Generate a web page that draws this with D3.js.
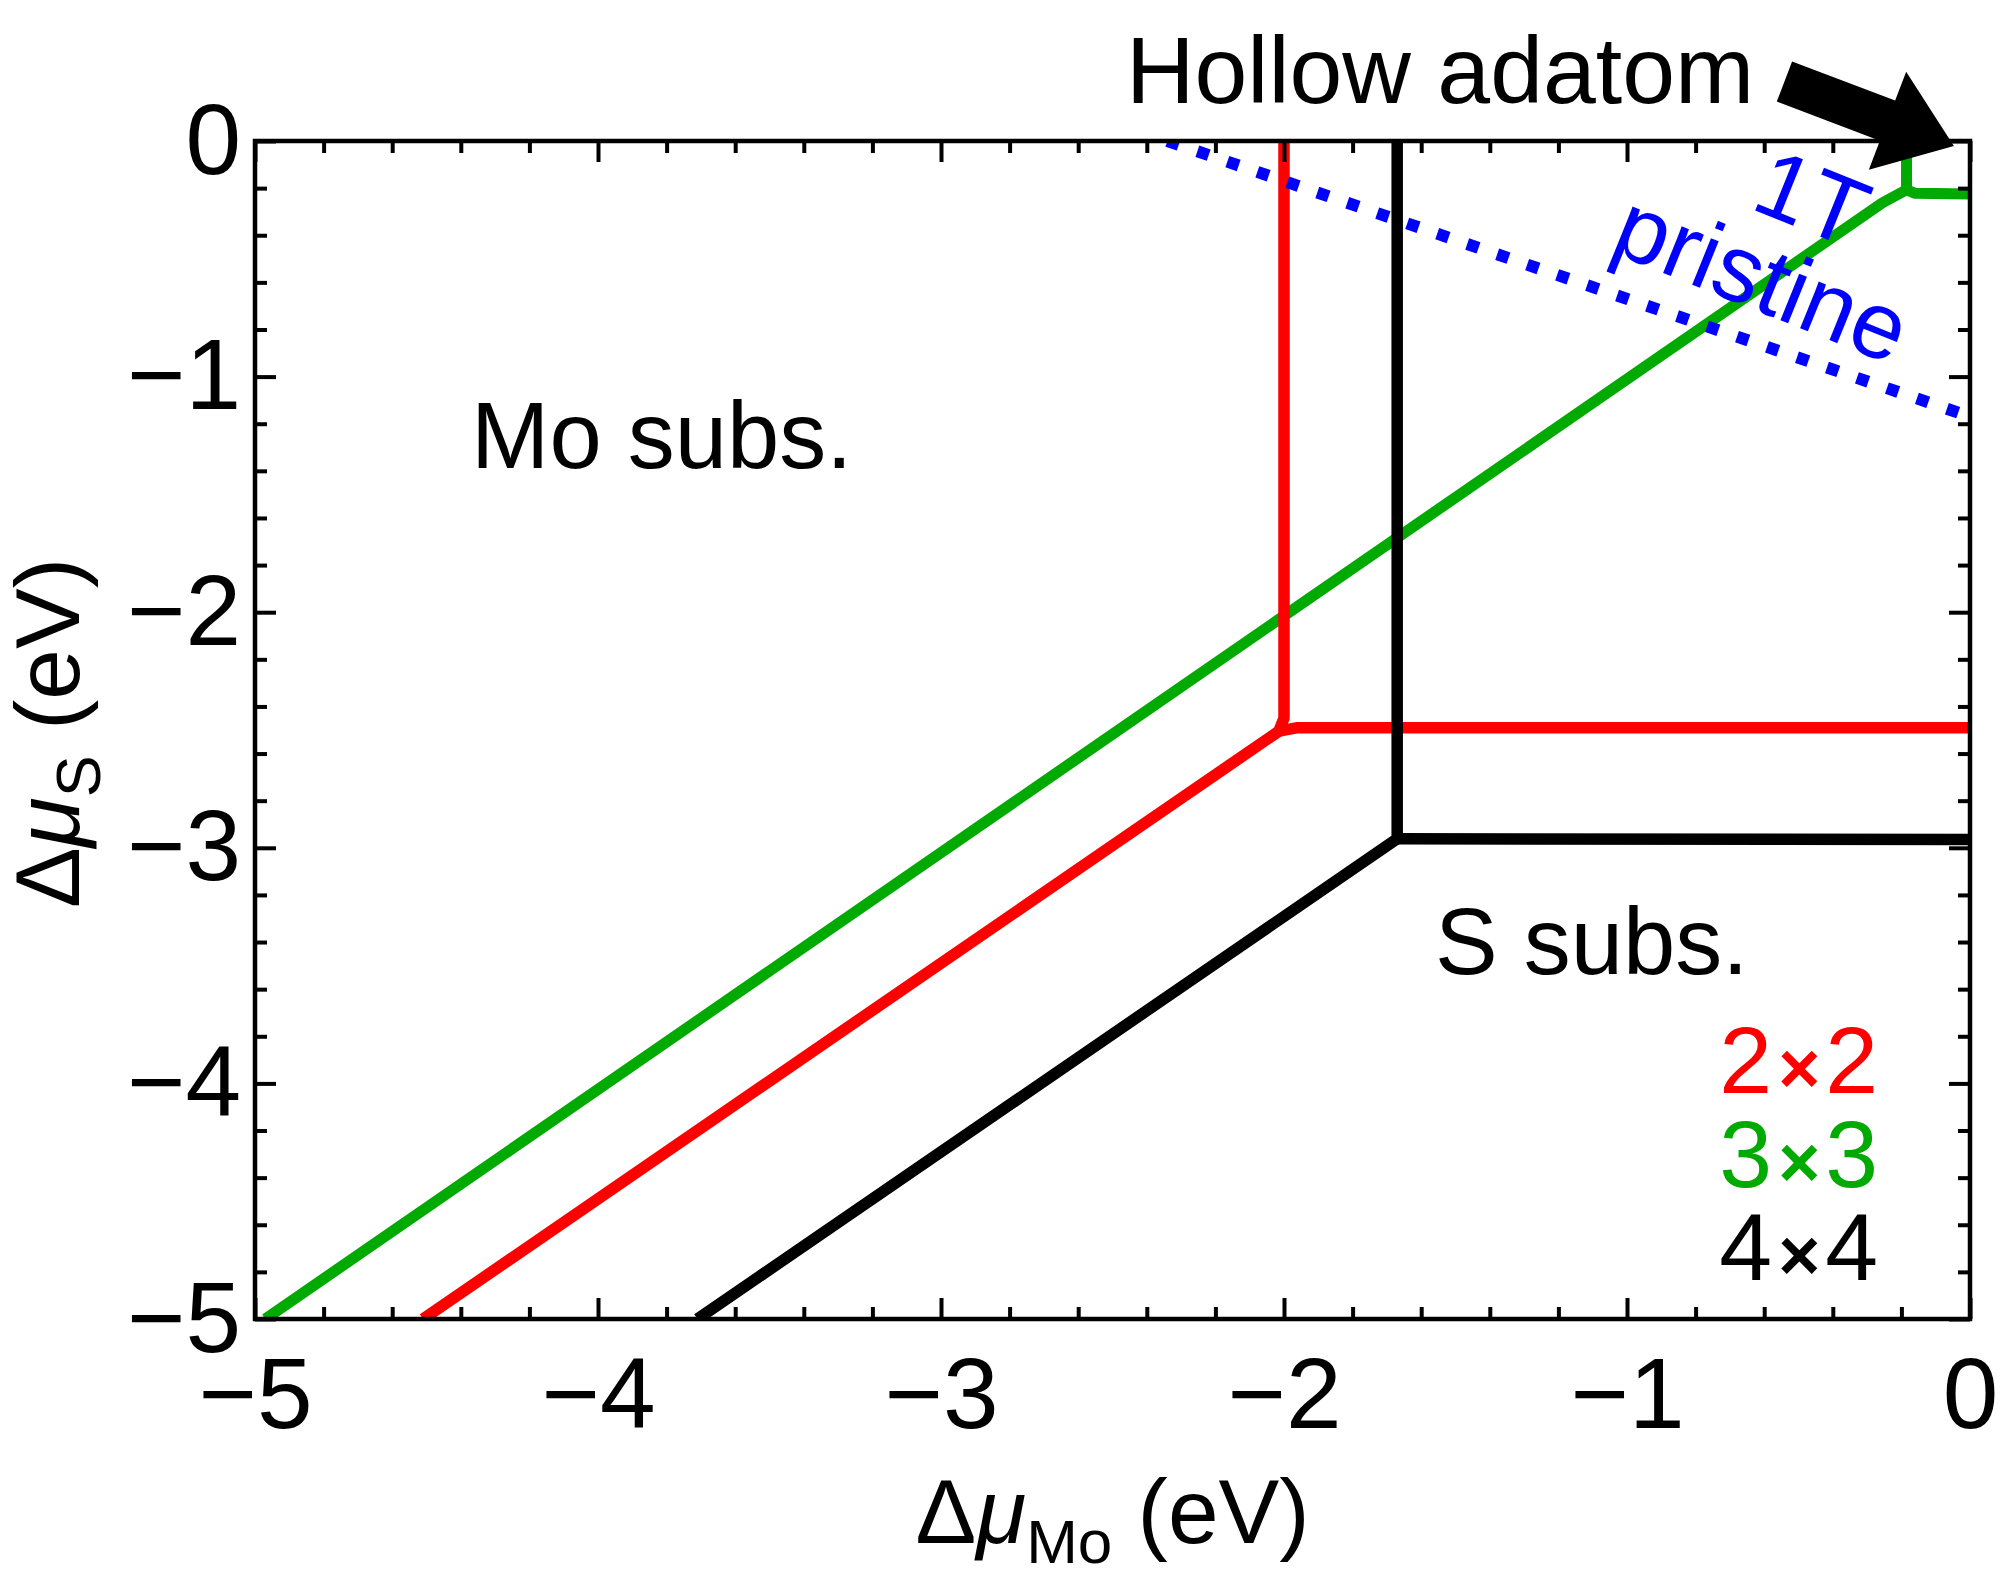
<!DOCTYPE html>
<html>
<head>
<meta charset="utf-8">
<script src="https://cdn.jsdelivr.net/npm/d3@7/dist/d3.min.js"></script>
<style>
  html, body { margin: 0; padding: 0; background: #fff; }
  svg { display: block; }
  text { font-family: "Liberation Sans", Arial, sans-serif; }
</style>
</head>
<body>
<svg id="chart" width="2015" height="1595"></svg>
<script>
// ---------------- data (eV) ----------------
const xMajorTicks = [-5, -4, -3, -2, -1, 0];
const yMajorTicks = [-5, -4, -3, -2, -1, 0];
const minorStep = 0.2;

// 2x2 (red) phase boundaries
const red2x2Diag  = [[-2.0, 0], [-2.0, -2.45], [-2.015, -2.505], [-4.51, -5]];
const red2x2Horiz = [[-2.015, -2.505], [-1.96, -2.49], [0, -2.49]];
// 3x3 (green) phase boundaries
const green3x3Diag  = [[-0.185, 0], [-0.185, -0.207], [-0.255, -0.262], [-4.97, -5]];
const green3x3Horiz = [[-0.185, -0.207], [-0.16, -0.222], [0, -0.225]];
// 4x4 (black) phase boundaries
const black4x4Diag  = [[-1.67, 0], [-1.67, -2.962], [-3.71, -5]];
const black4x4Horiz = [[-1.67, -2.962], [0, -2.965]];
// 1T pristine stability limit (dotted)
const pristine1T = [[-2.34, 0], [0, -1.17]];

const legendLabels = [["2", "2"], ["3", "3"], ["4", "4"]];
const legendColors = ["#ff0000", "#00aa00", "#000000"];

// ---------------- layout ----------------
const L = 255, R = 1970, T = 141, B = 1319;
const svg = d3.select("#chart");
const x = d3.scaleLinear().domain([-5, 0]).range([L, R]);
const y = d3.scaleLinear().domain([-5, 0]).range([B, T]);

const minorVals = d3.range(-5, 0.0001, minorStep).filter(v => Math.abs(v - Math.round(v)) > 1e-6);

svg.append("defs").append("clipPath").attr("id", "plotclip")
  .append("rect").attr("x", L).attr("y", T).attr("width", R - L).attr("height", B - T);

const line = d3.line().x(d => x(d[0])).y(d => y(d[1]));
const plot = svg.append("g").attr("clip-path", "url(#plotclip)");

function drawLine(data, color, width, dash) {
  const p = plot.append("path").datum(data).attr("d", line)
    .attr("fill", "none").attr("stroke", color).attr("stroke-width", width)
    .attr("stroke-linejoin", "round").attr("stroke-linecap", "butt");
  if (dash) p.attr("stroke-dasharray", dash);
  return p;
}
drawLine(green3x3Diag, "#00aa00", 11);
drawLine(green3x3Horiz, "#00aa00", 11);
drawLine(red2x2Diag, "#ff0000", 11.5);
drawLine(red2x2Horiz, "#ff0000", 11.5);
drawLine(black4x4Diag, "#000000", 11.5);
drawLine(black4x4Horiz, "#000000", 11.5);
drawLine(pristine1T, "#0000ff", 12, "12,19.7");

// ---------------- axes ----------------
function styleAxis(g, fs) {
  g.attr("font-size", fs).attr("font-family", "'Liberation Sans', Arial, sans-serif");
  g.selectAll(".domain").remove();
  g.selectAll("line").attr("stroke", "#000").attr("stroke-width", 4);
  g.selectAll("text").attr("fill", "#000");
}
const fmt = d => d === 0 ? "0" : "\u2212" + Math.abs(d);

svg.append("g").attr("transform", `translate(0,${B})`)
  .call(d3.axisBottom(x).tickValues(xMajorTicks).tickSize(-21).tickSizeOuter(0).tickPadding(38).tickFormat(fmt))
  .call(g => styleAxis(g, 100));
svg.append("g").attr("transform", `translate(0,${B})`)
  .call(d3.axisBottom(x).tickValues(minorVals).tickSize(-12).tickSizeOuter(0).tickFormat(""))
  .call(g => styleAxis(g, 10));
svg.append("g").attr("transform", `translate(0,${T})`)
  .call(d3.axisTop(x).tickValues(xMajorTicks).tickSize(-21).tickSizeOuter(0).tickFormat(""))
  .call(g => styleAxis(g, 10));
svg.append("g").attr("transform", `translate(0,${T})`)
  .call(d3.axisTop(x).tickValues(minorVals).tickSize(-12).tickSizeOuter(0).tickFormat(""))
  .call(g => styleAxis(g, 10));

svg.append("g").attr("transform", `translate(${L},0)`)
  .call(d3.axisLeft(y).tickValues(yMajorTicks).tickSize(-21).tickSizeOuter(0).tickPadding(14).tickFormat(fmt))
  .call(g => styleAxis(g, 100));
svg.append("g").attr("transform", `translate(${L},0)`)
  .call(d3.axisLeft(y).tickValues(minorVals).tickSize(-12).tickSizeOuter(0).tickFormat(""))
  .call(g => styleAxis(g, 10));
svg.append("g").attr("transform", `translate(${R},0)`)
  .call(d3.axisRight(y).tickValues(yMajorTicks).tickSize(-21).tickSizeOuter(0).tickFormat(""))
  .call(g => styleAxis(g, 10));
svg.append("g").attr("transform", `translate(${R},0)`)
  .call(d3.axisRight(y).tickValues(minorVals).tickSize(-12).tickSizeOuter(0).tickFormat(""))
  .call(g => styleAxis(g, 10));

// frame
svg.append("rect").attr("x", L).attr("y", T).attr("width", R - L).attr("height", B - T)
  .attr("fill", "none").attr("stroke", "#000").attr("stroke-width", 4.5);

// ---------------- axis titles ----------------
const xt = svg.append("text").attr("x", (L + R) / 2).attr("y", 1543)
  .attr("text-anchor", "middle").attr("font-size", 91).attr("fill", "#000");
xt.append("tspan").text("\u0394");
xt.append("tspan").attr("font-style", "italic").text("\u03bc");
xt.append("tspan").attr("font-size", 62).attr("dy", 20).text("Mo");
xt.append("tspan").attr("dy", -20).text(" (eV)");

const yt = svg.append("text").attr("transform", `translate(79,${(T + B) / 2 + 3}) rotate(-90)`)
  .attr("text-anchor", "middle").attr("font-size", 91).attr("fill", "#000");
yt.append("tspan").text("\u0394");
yt.append("tspan").attr("font-style", "italic").text("\u03bc");
yt.append("tspan").attr("font-size", 63).attr("dy", 21).text("S");
yt.append("tspan").attr("dy", -21).text(" (eV)");

// ---------------- annotations ----------------
svg.append("text").attr("x", x(-4.37)).attr("y", y(-1.387)).attr("font-size", 94).text("Mo subs.");
svg.append("text").attr("x", x(-1.56)).attr("y", y(-3.536)).attr("font-size", 94).text("S subs.");
svg.append("text").attr("x", x(-2.461)).attr("y", y(0.161)).attr("font-size", 95).text("Hollow adatom");

const legendBaselines = [-4.041, -4.440, -4.834];
legendLabels.forEach((lab, i) => {
  const t = svg.append("text").attr("x", x(-0.268)).attr("y", y(legendBaselines[i]))
    .attr("text-anchor", "end").attr("font-size", 95).attr("fill", legendColors[i]);
  t.append("tspan").text(lab[0]);
  t.append("tspan").attr("font-size", 72).attr("font-weight", "bold").attr("dx", 6).text("\u00d7");
  t.append("tspan").attr("dx", 5).text(lab[1]);
});

// rotated "1T pristine" label
svg.append("text").attr("transform", "translate(1800,228.5) rotate(22)")
  .attr("text-anchor", "middle").attr("font-size", 95).attr("fill", "#0000ff").text("1T");
svg.append("text").attr("transform", "translate(1750,308) rotate(22)")
  .attr("text-anchor", "middle").attr("font-size", 95).attr("fill", "#0000ff").text("pristine");

// block arrow (data-anchored)
const arrowFrom = [-0.541, 0.2525], arrowTo = [-0.047, -0.021];
(function () {
  const p0 = [x(arrowFrom[0]), y(arrowFrom[1])], p1 = [x(arrowTo[0]), y(arrowTo[1])];
  const dx = p1[0] - p0[0], dy = p1[1] - p0[1], len = Math.hypot(dx, dy);
  const u = [dx / len, dy / len], n = [-u[1], u[0]];
  const sw = 43, hw = 105, hl = 71;
  const b = [p1[0] - u[0] * hl, p1[1] - u[1] * hl];
  const pt = (p, k) => [p[0] + n[0] * k, p[1] + n[1] * k];
  const pts = [pt(p0, sw / 2), pt(b, sw / 2), pt(b, hw / 2), p1, pt(b, -hw / 2), pt(b, -sw / 2), pt(p0, -sw / 2)];
  svg.append("polygon").attr("points", pts.map(p => p.join(",")).join(" ")).attr("fill", "#000");
})();
</script>
</body>
</html>
